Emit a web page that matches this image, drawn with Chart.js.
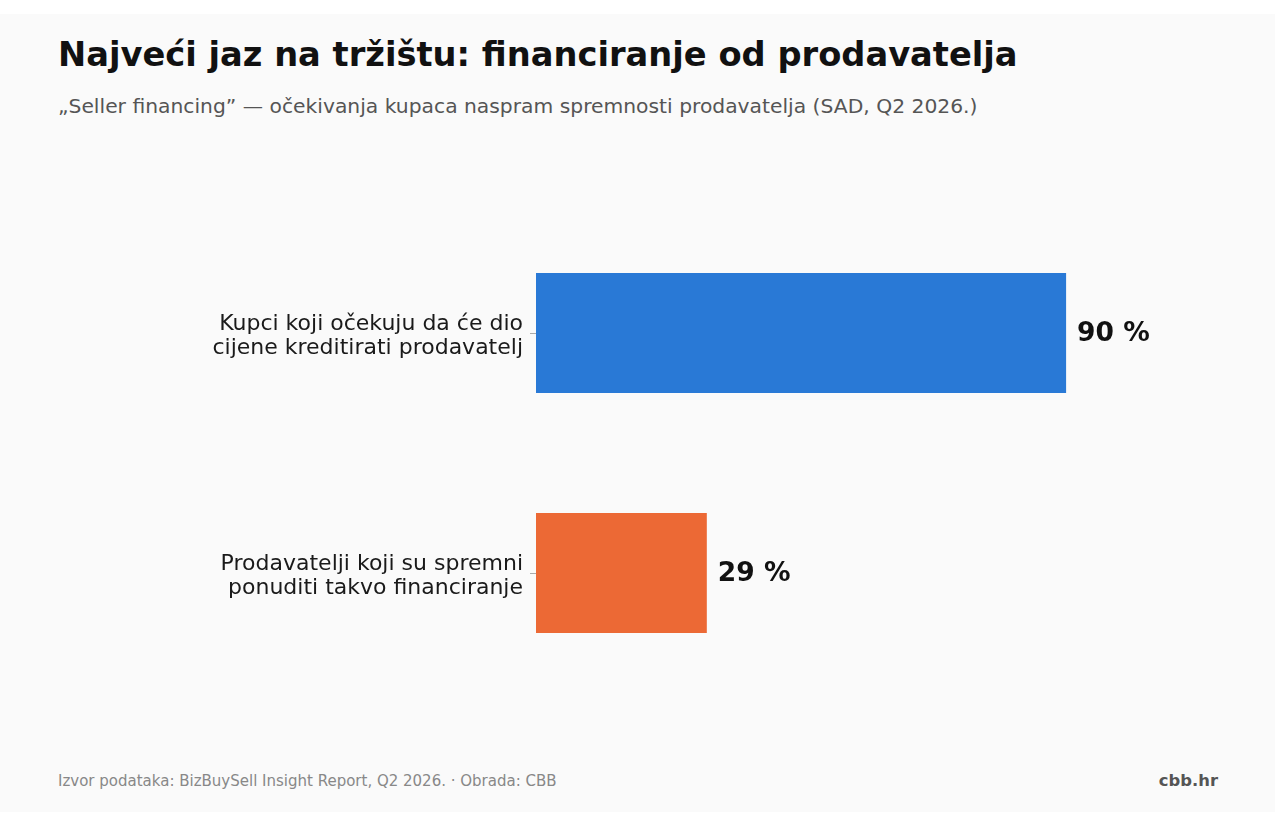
<!DOCTYPE html>
<html lang="hr">
<head>
<meta charset="utf-8">
<title>Najveći jaz na tržištu</title>
<script src="https://cdn.jsdelivr.net/npm/chart.js@4/dist/chart.umd.min.js"></script>
<style>
  html, body { margin: 0; padding: 0; background: #fff; }
  body { width: 1275px; height: 818px; position: relative; overflow: hidden;
         font-family: "DejaVu Sans", sans-serif; }
  .card { position: absolute; left: 0; top: 14px; width: 1275px; height: 798px; background: #fafafa; }
  h1 { position: absolute; left: 58px; top: 21px; margin: 0; font-size: 33.7px; font-weight: bold; color: #111; }
  .sub { position: absolute; left: 58px; top: 80px; margin: 0; font-size: 20.3px; color: #555; }
  .wrap { position: absolute; left: 0; top: 126px; width: 1275px; height: 600px; }
  .src { position: absolute; left: 58px; top: 758px; font-size: 15px; color: #888; }
  .brand { position: absolute; right: 57px; top: 757px; font-size: 16.4px; font-weight: bold; color: #555; }
</style>
</head>
<body>
<div class="card">
  <h1>Najveći jaz na tržištu: financiranje od prodavatelja</h1>
  <p class="sub">„Seller financing” — očekivanja kupaca naspram spremnosti prodavatelja (SAD, Q2 2026.)</p>
  <div class="wrap"><canvas id="myChart"></canvas></div>
  <div class="src">Izvor podataka: BizBuySell Insight Report, Q2 2026. · Obrada: CBB</div>
  <div class="brand">cbb.hr</div>
</div>
<script>
'use strict';

// data
let categories = [
  ['Kupci koji očekuju da će dio', 'cijene kreditirati prodavatelj'],
  ['Prodavatelji koji su spremni', 'ponuditi takvo financiranje']
];
let shares = [90, 29];
let barColors = ['#2979d6', '#ec6935'];

// value labels next to bar ends
let valueLabels = {
  id: 'valueLabels',
  afterDatasetsDraw(chart) {
    let ctx = chart.ctx;
    let meta = chart.getDatasetMeta(0);
    ctx.save();
    ctx.font = 'bold 26.5px "DejaVu Sans"';
    ctx.fillStyle = '#111';
    ctx.textAlign = 'left';
    ctx.textBaseline = 'middle';
    meta.data.forEach((bar, i) => {
      ctx.fillText(shares[i] + ' %', bar.x + 11, bar.y + 1);
    });
    ctx.restore();
  }
};

let chartObject = {
  type: 'bar',
  data: {
    labels: categories,
    datasets: [{
      data: shares,
      backgroundColor: barColors,
      borderWidth: 0,
      barPercentage: 0.5,
      categoryPercentage: 1
    }]
  },
  options: {
    indexAxis: 'y',
    responsive: true,
    maintainAspectRatio: false,
    animation: false,
    layout: { padding: { left: 0, right: 150, top: 73, bottom: 47 } },
    plugins: {
      legend: { display: false },
      tooltip: { enabled: false }
    },
    scales: {
      x: {
        display: false,
        min: 0,
        max: 100
      },
      y: {
        afterFit(scale) { scale.width = 536; },
        border: { display: false },
        grid: { offset: false, drawOnChartArea: false, drawTicks: true, tickLength: 6, color: '#aaa' },
        ticks: {
          padding: 7,
          labelOffset: 3,
          color: '#1a1a1a',
          font: { family: '"DejaVu Sans"', size: 22, lineHeight: 1.1 }
        }
      }
    }
  },
  plugins: [valueLabels]
};

let ctx = document.getElementById('myChart').getContext('2d');
let myChart = new Chart(ctx, chartObject);
</script>
</body>
</html>
